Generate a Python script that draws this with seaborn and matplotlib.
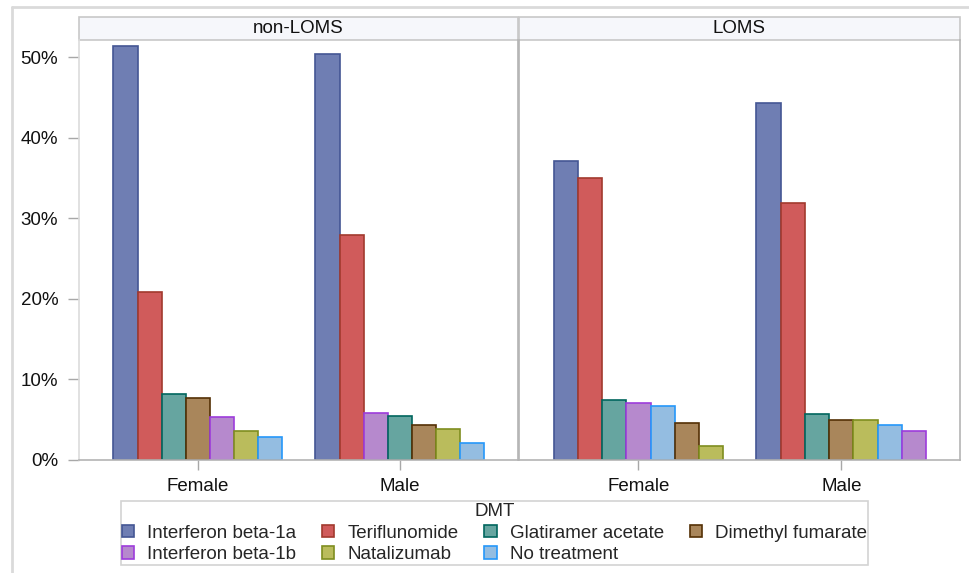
import numpy as np
import pandas as pd
import matplotlib
matplotlib.use("Agg")
import matplotlib.pyplot as plt
import seaborn as sns
from matplotlib.patches import Patch, Rectangle
from matplotlib.lines import Line2D
from matplotlib.ticker import FuncFormatter

# --- data (percent of patients per DMT) ---
dmts = ["Interferon beta-1a", "Teriflunomide", "Glatiramer acetate", "Dimethyl fumarate",
        "Interferon beta-1b", "Natalizumab", "No treatment"]
fill_colors = ["#6F7EB3", "#D05B5B", "#66A5A0", "#A9865B", "#B689CD", "#BABC5C", "#94BDE1"]
edge_colors = ["#445694", "#A23A2E", "#01665E", "#543005", "#9D3CDB", "#7F8E1F", "#2597FA"]

panels = ["non-LOMS", "LOMS"]
sexes = ["Female", "Male"]

non_loms_female = [51.4, 20.9, 8.15, 7.65, 5.4, 3.6, 2.8]
non_loms_male = [50.4, 27.9, 5.5, 4.3, 5.8, 3.9, 2.1]
loms_female = [37.2, 35.0, 7.4, 4.6, 7.1, 1.7, 6.7]
loms_male = [44.3, 31.9, 5.7, 5.0, 3.6, 5.0, 4.3]

# bars are sorted by size inside each group, so build a rank column
rows = []
for panel, sex, vals in [("non-LOMS", "Female", non_loms_female),
                         ("non-LOMS", "Male", non_loms_male),
                         ("LOMS", "Female", loms_female),
                         ("LOMS", "Male", loms_male)]:
    order = np.argsort(-np.array(vals), kind="stable")
    for rank, k in enumerate(order):
        rows.append({"panel": panel, "sex": sex, "rank": f"r{rank}",
                     "dmt": dmts[k], "pct": vals[k]})
df = pd.DataFrame(rows)

sns.set_style("white")
plt.rcParams["font.family"] = ["Liberation Sans", "DejaVu Sans"]
FS = 13.5
W, H = 970, 573
group_width = 0.837

fig = plt.figure(figsize=(W / 100, H / 100), dpi=100)
ax_left = fig.add_axes([79 / W, 1 - 460 / H, 439 / W, 420 / H])
ax_right = fig.add_axes([519 / W, 1 - 460 / H, 441 / W, 420 / H])

for ax, panel in zip([ax_left, ax_right], panels):
    sub = df[df["panel"] == panel]
    sns.barplot(data=sub, x="sex", y="pct", hue="rank", order=sexes,
                hue_order=[f"r{i}" for i in range(7)], width=group_width, gap=0,
                dodge=True, saturation=1, errorbar=None, legend=False, ax=ax)
    for cont in ax.containers:
        for bar in cont:
            pos = int(round(bar.get_x() + bar.get_width() / 2))
            rank = int(round((bar.get_x() - (pos - group_width / 2)) / (group_width / 7)))
            dmt = sub[(sub["sex"] == sexes[pos]) & (sub["rank"] == f"r{rank}")]["dmt"].iloc[0]
            k = dmts.index(dmt)
            bar.set_facecolor(fill_colors[k])
            bar.set_edgecolor(edge_colors[k])
            bar.set_linewidth(1.2)

    ax.set_xlim(-0.589, 1.585)
    ax.set_ylim(0, 52.17)
    ax.set_yticks([0, 10, 20, 30, 40, 50])
    ax.yaxis.set_major_formatter(FuncFormatter(lambda v, _: f"{v:.0f}%"))
    ax.set_xlabel("")
    ax.set_ylabel("")
    ax.tick_params(axis="x", length=7, color="#a8a8a8", width=1, pad=6,
                   labelsize=FS, labelcolor="#111111", bottom=True)
    for s in ax.spines.values():
        s.set_color("#b4b4b4")
        s.set_linewidth(1.2)
    ax.spines["top"].set_visible(False)

    # header strip
    ax.add_patch(Rectangle((0, 1), 1, 23 / 420, transform=ax.transAxes, clip_on=False,
                           facecolor="#f6f7fb", edgecolor="#c8c8c8", linewidth=1.2))
    ax.text(0.5, 1 + 11.5 / 420, panel, transform=ax.transAxes, ha="center",
            va="center", fontsize=FS, color="#111111")

ax_left.tick_params(axis="y", length=8, color="#a8a8a8", width=1, pad=7,
                    labelsize=FS, labelcolor="#111111", left=True)
ax_left.spines["left"].set_color("#dcdcdc")
ax_right.tick_params(axis="y", left=False, labelleft=False)

# outer frame (only top and left visible in the crop)
fig.add_artist(Line2D([12 / W, 1], [1 - 7 / H, 1 - 7 / H], color="#dadada", linewidth=2))
fig.add_artist(Line2D([12 / W, 12 / W], [0, 1 - 7 / H], color="#dadada", linewidth=2))

# legend, row-major order
handles = [Patch(facecolor=fill_colors[k], edgecolor=edge_colors[k], linewidth=1.2)
           for k in range(len(dmts))]
order = [0, 4, 1, 5, 2, 6, 3]
leg = fig.legend([handles[i] for i in order], [dmts[i] for i in order], ncol=4,
                 loc="center", bbox_to_anchor=(494.5 / W, 1 - 533 / H), title="DMT",
                 fontsize=FS, title_fontsize=FS, frameon=True, fancybox=False,
                 edgecolor="#c8c8c8", handlelength=0.65, handleheight=0.65,
                 handletextpad=0.7, columnspacing=1.37, labelspacing=0.25,
                 borderpad=0.08, borderaxespad=0)
leg.get_frame().set_linewidth(1.2)

fig.savefig("out.png", dpi=100)
